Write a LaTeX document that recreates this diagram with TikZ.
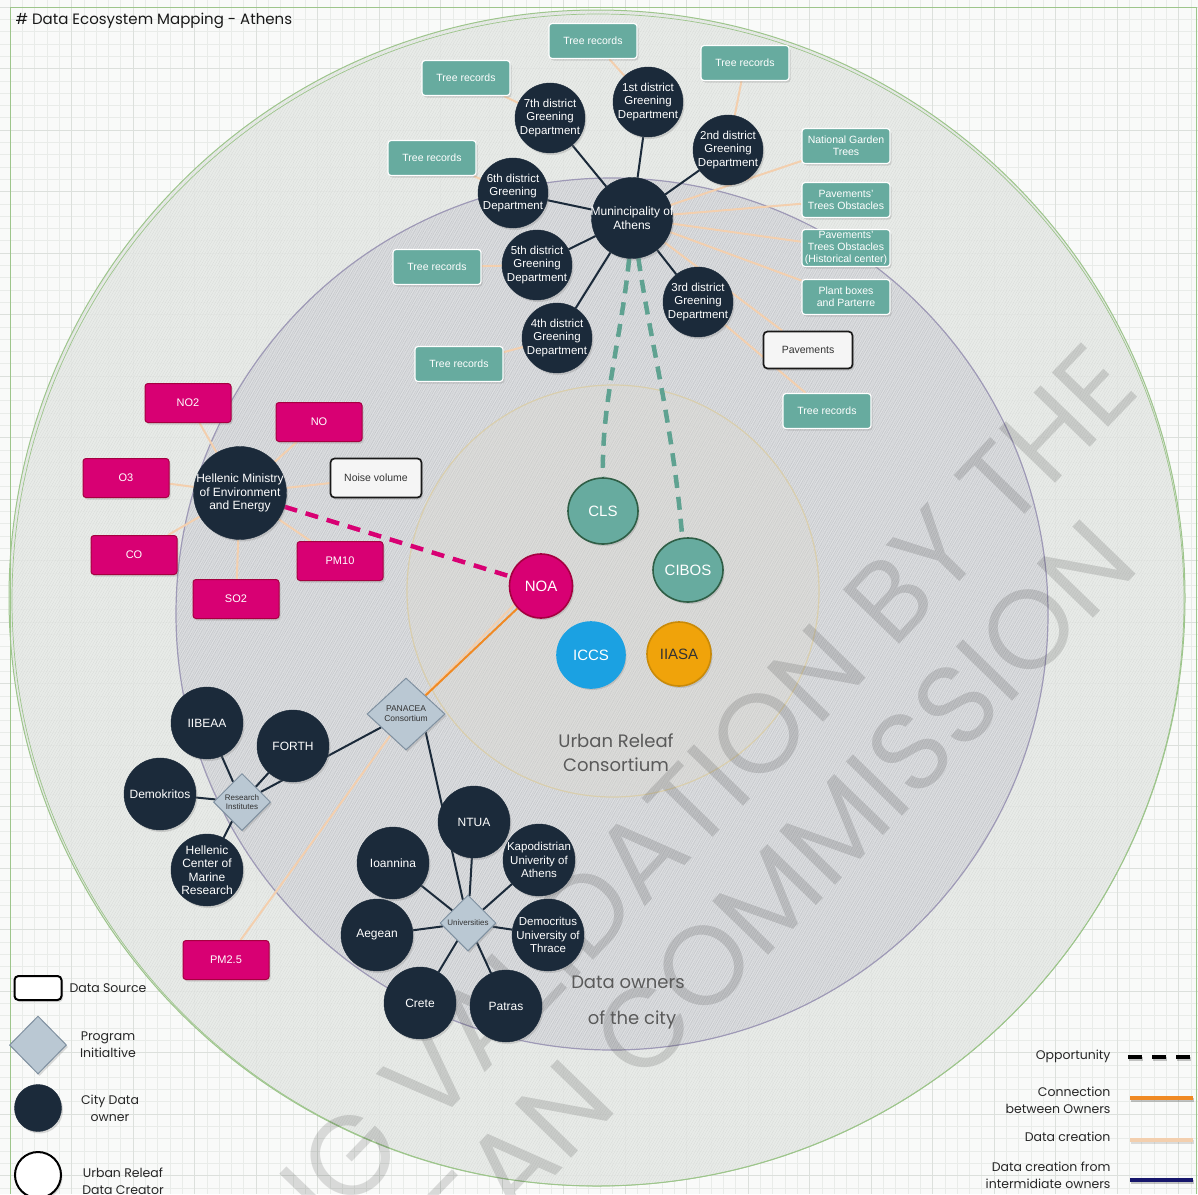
\documentclass[tikz,border=0pt]{standalone}
\usepackage{fontspec}
\setmainfont{Liberation Sans}
\newfontfamily\handfont{Poppins}
\usetikzlibrary{shapes.geometric,shadows,patterns.meta}

\definecolor{ink}{HTML}{1B2A3A}
\definecolor{tealfill}{HTML}{67AB9F}
\definecolor{tealedge}{HTML}{2F5E46}
\definecolor{tealdash}{HTML}{5FA291}
\definecolor{magfill}{HTML}{D80073}
\definecolor{magedge}{HTML}{A50040}
\definecolor{blufill}{HTML}{1BA1E2}
\definecolor{orgfill}{HTML}{F0A30A}
\definecolor{orgedge}{HTML}{C98A08}
\definecolor{diafill}{HTML}{BAC8D3}
\definecolor{diaedge}{HTML}{7F90A0}
\definecolor{peach}{HTML}{F3CFAE}
\definecolor{orangeline}{HTML}{F08A24}
\definecolor{navyline}{HTML}{16166B}
\definecolor{paper}{HTML}{F9FAF9}
\definecolor{gridminor}{HTML}{E9ECE9}
\definecolor{gridmajor}{HTML}{DCE0DC}
\definecolor{ringouter}{HTML}{E6E9E6}
\definecolor{ringmid}{HTML}{D8DADD}
\definecolor{ringinner}{HTML}{DDDAD0}
\definecolor{greenedge}{HTML}{9DC58B}
\definecolor{lilacedge}{HTML}{9E99B6}
\definecolor{sandedge}{HTML}{D9CEAD}
\definecolor{handgray}{HTML}{5A5A5A}
\definecolor{boxtext}{HTML}{333333}

\pgfdeclarelayer{back}
\pgfdeclarelayer{mark}
\pgfdeclarelayer{edges}
\pgfsetlayers{back,mark,edges,main}

\begin{document}
\begin{tikzpicture}[x=1pt,y=-1pt,
  softshadow/.style={drop shadow={shadow xshift=1.5pt,shadow yshift=-2pt,opacity=0.28}},
  owner/.style={circle,fill=ink,draw=ink,minimum size=70pt,inner sep=-6pt,text=white,
    align=center,font=\fontsize{11.5}{13.3}\selectfont,softshadow},
  tealbox/.style={rectangle,rounded corners=3pt,fill=tealfill,draw=white,line width=1.2pt,
    minimum width=88pt,minimum height=35pt,inner sep=1pt,text=white,align=center,
    font=\fontsize{10.5}{12}\selectfont,softshadow},
  magbox/.style={rectangle,rounded corners=3pt,fill=magfill,draw=magedge,line width=1pt,
    minimum width=86pt,minimum height=39pt,inner sep=1pt,text=white,align=center,
    font=\fontsize{11}{12}\selectfont,softshadow},
  srcbox/.style={rectangle,rounded corners=4pt,fill=white!96!black,draw=black!90,line width=1.7pt,
    minimum width=89pt,minimum height=37pt,inner sep=1pt,text=boxtext,align=center,
    font=\fontsize{10.5}{12}\selectfont,softshadow},
  creator/.style={ellipse,draw,line width=1.6pt,inner sep=0,text=white,
    font=\fontsize{15}{16}\selectfont,softshadow},
  program/.style={diamond,fill=diafill,draw=diaedge,line width=1pt,inner sep=0,aspect=1,
    text=boxtext,align=center,font=\fontsize{8}{9.5}\selectfont,softshadow},
  ownline/.style={ink,line width=2pt},
  dataline/.style={peach,line width=2pt},
  linkline/.style={orangeline,line width=2pt},
  chance/.style={line width=4.5pt,dash pattern=on 13pt off 9pt},
  legshadow/.style={black,opacity=0.22,line width=4pt,transform canvas={shift={(1.2pt,-2pt)}}},
  hand/.style={font=\handfont\fontsize{18}{24}\selectfont,text=handgray,align=center},
  legtext/.style={font=\handfont\fontsize{12.5}{17}\selectfont,text=black!85,align=center},
  wmark/.style={rotate=46,font=\handfont\fontsize{112}{112}\selectfont,text=black,
    text opacity=0.13,inner sep=0}
]
\path[use as bounding box] (0,0) rectangle (1198,1194);
\clip (0,0) rectangle (1198,1194);

% ---------- paper, grid and the three rings ----------
\begin{pgfonlayer}{back}
  \fill[paper] (0,0) rectangle (1198,1194);
  \foreach \i in {0,...,96} {
    \draw[gridminor,line width=0.5pt] ({10+12.3*\i},0) -- ({10+12.3*\i},1194);
    \draw[gridminor,line width=0.5pt] (0,{7+12.3*\i}) -- (1198,{7+12.3*\i});
  }
  \foreach \i in {0,...,19} {
    \draw[gridmajor,line width=0.6pt] ({10+61.5*\i},0) -- ({10+61.5*\i},1194);
    \draw[gridmajor,line width=0.6pt] (0,{7+61.5*\i}) -- (1198,{7+61.5*\i});
  }
  % outer ring
  \fill[ringouter,fill opacity=0.85] (597,598) circle[radius=588];
  \fill[pattern={Lines[angle=60,distance=2.4pt,line width=0.4pt]},pattern color=black,opacity=0.06]
    (597,598) circle[radius=588];
  \draw[greenedge,line width=1pt] (597,598) circle[radius=588];
  \draw[greenedge,line width=0.7pt] (598,600) circle[radius=586];
  % data owners ring
  \fill[ringmid] (612,614) circle[radius=436];
  \fill[pattern={Lines[angle=62,distance=2pt,line width=0.45pt]},pattern color=black,opacity=0.09]
    (612,614) circle[radius=436];
  \fill[pattern={Lines[angle=57,distance=3.3pt,line width=0.6pt]},pattern color=white,opacity=0.25]
    (612,614) circle[radius=436];
  \draw[lilacedge,line width=1.2pt] (612,614) circle[radius=436];
  % consortium ring
  \fill[ringinner,fill opacity=0.35] (613,591) circle[radius=206];
  \draw[sandedge,line width=1.2pt] (613,591) circle[radius=206];
  % page frame
  \draw[greenedge,line width=1pt] (10,1194) -- (10,7) -- (1196,7) -- (1196,1194);
\end{pgfonlayer}

% ---------- watermark ----------
\begin{pgfonlayer}{mark}
  \node[wmark,anchor=base east] (wmA) at (1143,392) {PENDING VALIDATION BY THE};
  \node[wmark,anchor=base east] (wmB) at (1142,568) {EUROPEAN COMMISSION};
\end{pgfonlayer}

% ---------- title ----------
\node[anchor=west,font=\handfont\fontsize{15}{15}\selectfont,text=black!90] (title) at (12,21)
  {\# Data Ecosystem Mapping - Athens};

% ---------- municipality cluster ----------
\node[owner,minimum size=81pt,font=\fontsize{12}{14}\selectfont] (muni) at (632,218) {Munincipality of\\Athens};
\node[owner] (d1) at (648,102) {1st district\\Greening\\Department};
\node[owner] (d2) at (728,150) {2nd district\\Greening\\Department};
\node[owner] (d3) at (698,302) {3rd district\\Greening\\Department};
\node[owner] (d4) at (557,338) {4th district\\Greening\\Department};
\node[owner] (d5) at (537,265) {5th district\\Greening\\Department};
\node[owner] (d6) at (513,193) {6th district\\Greening\\Department};
\node[owner] (d7) at (550,118) {7th district\\Greening\\Department};

\node[tealbox] (t1) at (593,41) {Tree records};
\node[tealbox] (t2) at (745,63) {Tree records};
\node[tealbox] (t3) at (827,411) {Tree records};
\node[tealbox] (t4) at (459,364) {Tree records};
\node[tealbox] (t5) at (437,267) {Tree records};
\node[tealbox] (t6) at (432,158) {Tree records};
\node[tealbox] (t7) at (466,78) {Tree records};
\node[tealbox] (ngt) at (846,146) {National Garden\\Trees};
\node[tealbox] (pto) at (846,200) {Pavements'\\Trees Obstacles};
\node[tealbox,minimum height=37pt,inner sep=0pt,font=\fontsize{10.5}{11.6}\selectfont] (ptoh) at (846,248)
  {Pavements'\\Trees Obstacles\\(Historical center)};
\node[tealbox] (pb) at (846,297) {Plant boxes\\and Parterre};
\node[srcbox] (pav) at (808,350) {Pavements};

% ---------- ministry cluster ----------
\node[owner,minimum size=93pt,font=\fontsize{12}{13.5}\selectfont] (min) at (240,493)
  {Hellenic Ministry\\of Environment\\and Energy};
\node[magbox] (no2) at (188,403) {NO2};
\node[magbox] (no) at (319,422) {NO};
\node[magbox] (o3) at (126,478) {O3};
\node[srcbox,minimum width=91pt,minimum height=39pt] (noise) at (376,478) {Noise volume};
\node[magbox] (co) at (134,555) {CO};
\node[magbox] (pm10) at (340,561) {PM10};
\node[magbox] (so2) at (236,599) {SO2};
\node[magbox] (pm25) at (226,960) {PM2.5};

% ---------- Urban Releaf consortium ----------
\node[creator,fill=tealfill,draw=tealedge,minimum width=70pt,minimum height=66pt] (cls) at (603,511) {CLS};
\node[creator,fill=tealfill,draw=tealedge,minimum width=70pt,minimum height=64pt] (cibos) at (688,570) {CIBOS};
\node[creator,fill=magfill,draw=magedge,minimum width=63pt,minimum height=64pt] (noa) at (541,586) {NOA};
\node[creator,fill=blufill,draw=blufill,minimum width=68pt,minimum height=66pt] (iccs) at (591,655) {ICCS};
\node[creator,fill=orgfill,draw=orgedge,minimum width=64pt,minimum height=64pt,text=black!80] (iiasa) at (679,654) {IIASA};

\node[hand] (urc) at (616,753) {Urban Releaf\\Consortium};
\node[hand] (dow1) at (628,982) {Data owners};
\node[hand] (dow2) at (632,1020) {of the city};

% ---------- research and universities ----------
\node[program,minimum width=78pt,minimum height=72pt,font=\fontsize{8.5}{10}\selectfont] (pan) at (406,714) {PANACEA\\Consortium};
\node[program,minimum width=57pt,minimum height=57pt] (ri) at (242,802) {Research\\Institutes};
\node[program,minimum width=56pt,minimum height=56pt] (uni) at (468,923) {Universities};

\node[owner,minimum size=72pt,font=\fontsize{12}{13.5}\selectfont] (iibeaa) at (207,723) {IIBEAA};
\node[owner,minimum size=72pt,font=\fontsize{12}{13.5}\selectfont] (forth) at (293,746) {FORTH};
\node[owner,minimum size=72pt,font=\fontsize{12}{13.5}\selectfont] (demok) at (160,794) {Demokritos};
\node[owner,minimum size=72pt,font=\fontsize{12}{13.5}\selectfont] (hcmr) at (207,870) {Hellenic\\Center of\\Marine\\Research};
\node[owner,minimum size=72pt,font=\fontsize{12}{13.5}\selectfont] (ntua) at (474,822) {NTUA};
\node[owner,minimum size=72pt,font=\fontsize{12}{13.5}\selectfont] (ioan) at (393,863) {Ioannina};
\node[owner,minimum size=72pt,font=\fontsize{11.5}{13.3}\selectfont] (kapo) at (539,860) {Kapodistrian\\Univerity of\\Athens};
\node[owner,minimum size=72pt,font=\fontsize{12}{13.5}\selectfont] (aeg) at (377,935) {Aegean};
\node[owner,minimum size=72pt,font=\fontsize{11.5}{13.3}\selectfont] (demo) at (548,935) {Democritus\\University of\\Thrace};
\node[owner,minimum size=72pt,font=\fontsize{12}{13.5}\selectfont] (crete) at (420,1003) {Crete};
\node[owner,minimum size=72pt,font=\fontsize{12}{13.5}\selectfont] (patras) at (506,1006) {Patras};

% ---------- connectors ----------
\begin{pgfonlayer}{edges}
  \foreach \d in {d1,d2,d3,d4,d5,d6,d7} \draw[ownline] (muni) -- (\d);
  \draw[dataline] (d1) -- (t1);
  \draw[dataline] (d2) -- (t2);
  \draw[dataline] (d3) -- (t3);
  \draw[dataline] (d4) -- (t4);
  \draw[dataline] (d5) -- (t5);
  \draw[dataline] (d6) -- (t6);
  \draw[dataline] (d7) -- (t7);
  \foreach \b in {ngt,pto,ptoh,pb,pav} \draw[dataline] (muni) -- (\b);
  \foreach \b in {no2,no,o3,noise,co,pm10,so2} \draw[dataline] (min) -- (\b);
  \draw[dataline] (noa.215) -- (pan.center) -- (pm25);
  \draw[linkline] (noa) -- (pan);
  \draw[chance,magfill] (min) -- (noa);
  \draw[chance,tealdash] (muni.266) .. controls (621,340) and (601,405) .. (cls.north);
  \draw[chance,tealdash] (muni.279) .. controls (650,340) and (673,425) .. (cibos.100);
  \foreach \r in {iibeaa,forth,demok,hcmr} \draw[ownline] (ri) -- (\r);
  \draw[ownline] (ri) -- (pan);
  \draw[ownline] (pan.south east) -- (uni);
  \foreach \u in {ntua,ioan,kapo,aeg,demo,crete,patras} \draw[ownline] (uni) -- (\u);
\end{pgfonlayer}

% ---------- legend, left ----------
\node[rectangle,rounded corners=4pt,fill=white,draw=black,line width=2pt,minimum width=47pt,minimum height=24pt,softshadow] (lsrc) at (38,988) {};
\node[legtext,anchor=west] (lsrct) at (66,988) {Data Source};
\node[program,minimum width=57pt,minimum height=58pt] (lprog) at (38,1045) {};
\node[legtext] (lprogt) at (108,1045) {Program\\Initialtive};
\node[circle,fill=ink,draw=ink,minimum size=47pt,inner sep=0,softshadow] (lown) at (38,1108) {};
\node[legtext] (lownt) at (110,1108) {City Data\\owner};
\node[circle,fill=white,draw=black,line width=2pt,minimum size=46pt,inner sep=0,softshadow] (lcre) at (38,1175) {};
\node[legtext] (lcret) at (123,1181) {Urban Releaf\\Data Creator};

% ---------- legend, right ----------
\node[legtext,anchor=east] (lopp) at (1114,1056) {Opportunity};
\coordinate (lopp1) at (1128,1057);
\coordinate (lopp2) at (1200,1057);
\draw[legshadow,dash pattern=on 14pt off 10pt] (lopp1) -- (lopp2);
\draw[black,line width=4pt,dash pattern=on 14pt off 10pt] (lopp1) -- (lopp2);

\node[legtext,anchor=east,align=right] (lcon) at (1114,1100) {Connection\\between Owners};
\coordinate (lcon1) at (1130,1098);
\coordinate (lcon2) at (1193,1098);
\draw[legshadow] (lcon1) -- (lcon2);
\draw[orangeline,line width=4pt] (lcon1) -- (lcon2);

\node[legtext,anchor=east] (ldat) at (1114,1137) {Data creation};
\coordinate (ldat1) at (1130,1140);
\coordinate (ldat2) at (1193,1140);
\draw[legshadow,opacity=0.12] (ldat1) -- (ldat2);
\draw[peach,line width=4pt] (ldat1) -- (ldat2);

\node[legtext,anchor=east,align=right] (lint) at (1114,1175) {Data creation from\\intermidiate owners};
\coordinate (lint1) at (1130,1180);
\coordinate (lint2) at (1193,1180);
\draw[legshadow] (lint1) -- (lint2);
\draw[navyline,line width=4pt] (lint1) -- (lint2);
\end{tikzpicture}
\end{document}
